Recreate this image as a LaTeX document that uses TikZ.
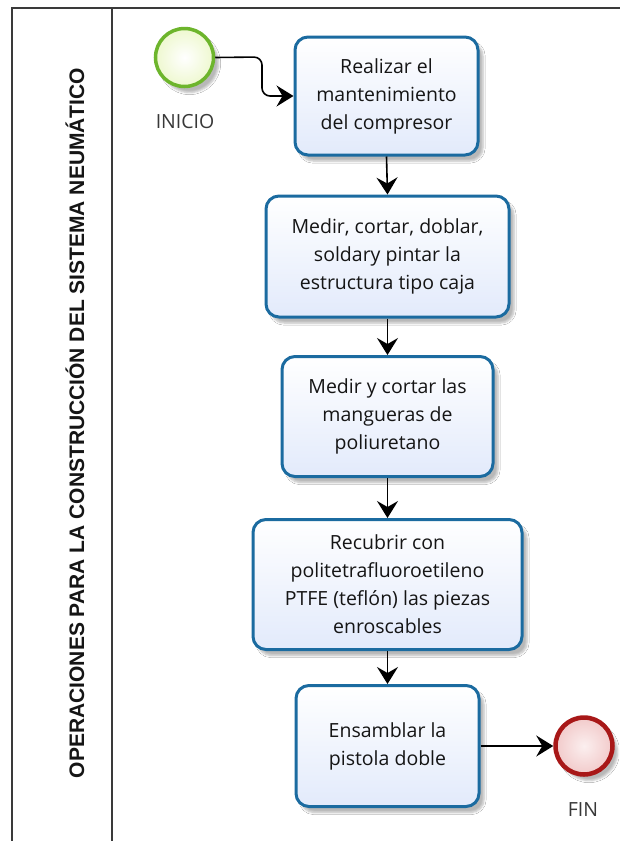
\documentclass[tikz,border=0pt]{standalone}
\usepackage{fontspec}
\setmainfont{Open Sans}
\newfontfamily\lanefont{Liberation Sans}
\usetikzlibrary{shadows.blur,arrows.meta}
\definecolor{taskblue}{HTML}{1B6BA0}
\definecolor{taskfill}{HTML}{E2EAFB}
\definecolor{startgreen}{HTML}{6DB52C}
\definecolor{startfill}{HTML}{EEF8CF}
\definecolor{endred}{HTML}{A81818}
\definecolor{endfill}{HTML}{F2CACA}
\definecolor{framegray}{HTML}{3A3A3A}
\definecolor{txt}{HTML}{151515}
\tikzset{
  x=1pt, y=-1pt,
  task/.style={draw=taskblue, line width=3pt, rounded corners=13pt,
    top color=white, bottom color=taskfill, shading angle=0,
    blur shadow={shadow xshift=5pt, shadow yshift=-6pt, shadow opacity=28, shadow blur steps=6},
    align=center, text=txt, font=\fontsize{19.5}{28}\selectfont, inner sep=0pt},
  startev/.style={circle, draw=startgreen, line width=3.5pt, minimum size=58pt,
    inner color=white, outer color=startfill,
    blur shadow={shadow xshift=5pt, shadow yshift=-6pt, shadow opacity=28}},
  endev/.style={circle, draw=endred, line width=4.5pt, minimum size=57pt,
    inner color=white!70!endfill, outer color=endfill,
    blur shadow={shadow xshift=5pt, shadow yshift=-6pt, shadow opacity=28}},
  evlabel/.style={text=txt!85, font=\fontsize{19.5}{22}\selectfont},
  flow/.style={draw=black, line width=1.6pt, -{Stealth[length=17pt,width=21pt,inset=6pt]}},
  frameline/.style={draw=framegray, line width=2pt},
}
\begin{document}
\begin{tikzpicture}
\useasboundingbox[fill=white] (0,0) rectangle (619,841);
% frame
\draw[frameline] (12,845) -- (12,8) -- (625,8);
\draw[frameline] (112,8) -- (112,845);
\node[rotate=90, font=\lanefont\bfseries\fontsize{21}{22}\selectfont, text=txt] (lane) at (75,423)
  {OPERACIONES PARA LA CONSTRUCCIÓN DEL SISTEMA NEUMÁTICO};
% events
\node[startev] (start) at (184.5,57.5) {};
\node[evlabel] (inicio) at (185,122) {INICIO};
% tasks
\node[task, minimum width=183pt, minimum height=118pt] (t1) at (386.5,96)
  {Realizar el\\mantenimiento\\del compresor};
\node[task, minimum width=243pt, minimum height=121pt] (t2) at (387.5,256.5)
  {Medir, cortar, doblar,\\soldary pintar la\\estructura tipo caja};
\node[task, minimum width=211pt, minimum height=120pt] (t3) at (387.5,416.5)
  {Medir y cortar las\\mangueras de\\poliuretano};
\node[task, minimum width=269pt, minimum height=130pt] (t4) at (387.5,584.5)
  {Recubrir con\\politetrafluoroetileno\\PTFE (teflón) las piezas\\enroscables};
\node[task, minimum width=183pt, minimum height=121pt] (t5) at (387.5,746)
  {Ensamblar la\\pistola doble};
\node[endev] (fin) at (584,746) {};
\node[evlabel] (finl) at (583,810) {FIN};
% flows
\coordinate (c1) at (262,57);
\coordinate (c2) at (262,96);
\draw[flow, rounded corners=8pt] (start.east) -- (c1) -- (c2) -- (t1.west);
\draw[flow] (t1.south) -- (t2.north);
\draw[flow] (t2.south) -- (t3.north);
\draw[flow] (t3.south) -- (t4.north);
\draw[flow] (t4.south) -- (t5.north);
\draw[flow] (t5.east) -- (fin.west);
\end{tikzpicture}
\end{document}
